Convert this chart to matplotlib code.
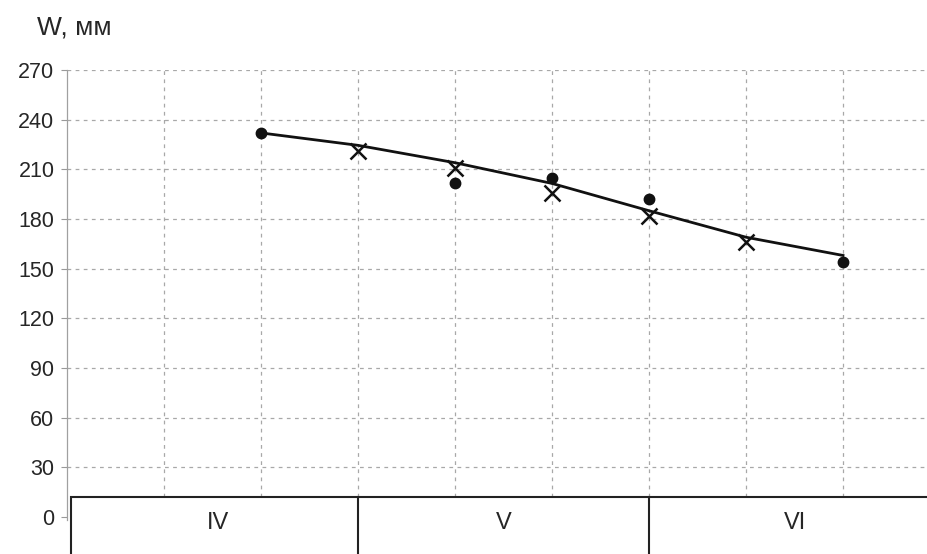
import matplotlib.pyplot as plt
from matplotlib.patches import Rectangle
import numpy as np

plt.rcParams['font.family'] = ['Liberation Sans', 'DejaVu Sans']

# measured points (dots), calculated points (crosses) and the fitted curve
dot_x = [2, 4, 5, 6, 8]
dot_w = [232, 202, 205, 192, 154]
cross_x = [3, 4, 5, 6, 7]
cross_w = [221, 211, 196, 182, 166]
curve_x = [2, 3, 4, 5, 6, 7, 8]
curve_w = [232, 224.5, 214, 201.5, 185, 169, 158]

stages = ['IV', 'V', 'VI']
stage_edges = [0.04, 3, 6, 9.5]
stage_mid = [1.56, 4.5, 7.5]

fig = plt.figure(figsize=(9.28, 5.54), dpi=100)
ax = fig.add_axes([67 / 928, 0, 1 - 67 / 928, 1 - 70 / 554])
ax.set_xlim(0, 8.876)
ax.set_ylim(-22.3, 270)

# dashed grid
for y in range(30, 271, 30):
    ax.axhline(y, color='#a8a8a8', lw=0.9, ls=(0, (3, 3.5)), zorder=1)
for x in range(1, 9):
    ax.plot([x, x], [12, 270], color='#a8a8a8', lw=0.9, ls=(0, (3, 3.5)), zorder=1)

ax.plot(curve_x, curve_w, color='#111111', lw=2, zorder=3)
ax.plot(dot_x, dot_w, 'o', color='#111111', ms=7.5, zorder=4)
ax.plot(cross_x, cross_w, 'x', color='#111111', ms=12, mew=1.8, zorder=4)

# stage table under the plot
ax.add_patch(Rectangle((stage_edges[0], -40), stage_edges[-1] - stage_edges[0], 52,
                       facecolor='white', edgecolor='#222222', lw=1.5, zorder=2))
for e in stage_edges[1:-1]:
    ax.plot([e, e], [-40, 12], color='#222222', lw=1.5, zorder=2)
for s, mid in zip(stages, stage_mid):
    ax.text(mid, -3.5, s, ha='center', va='center', fontsize=17, color='#262626', zorder=5)

ax.set_yticks(range(0, 271, 30))
ax.set_xticks([])
ax.tick_params(axis='y', labelsize=15.5, labelcolor='#262626', color='#999999',
               length=4, width=0.8, pad=5)
for side in ['top', 'right', 'bottom']:
    ax.spines[side].set_visible(False)
ax.spines['left'].set_color('#a0a0a0')
ax.spines['left'].set_linewidth(0.9)
ax.spines['left'].set_bounds(-2, 270)

fig.text(37 / 928, 1 - 27 / 554, 'W, мм', fontsize=19, color='#262626', va='center')

fig.savefig('out.png', dpi=100)
